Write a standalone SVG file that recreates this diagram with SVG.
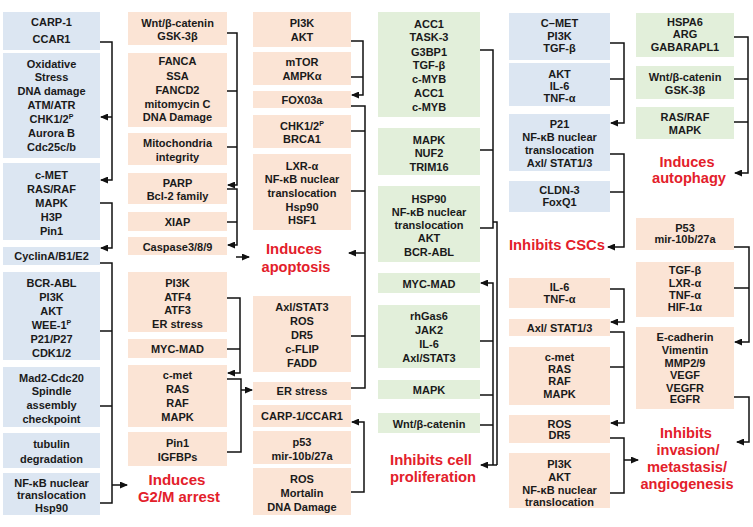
<svg xmlns="http://www.w3.org/2000/svg" width="753" height="527" viewBox="0 0 753 527">
<style>
.b{fill:#dce6f2}
.o{fill:#fbe4d5}
.g{fill:#e2efda}
.t{font-family:"Liberation Sans",Arial,sans-serif;font-weight:bold;font-size:11px;fill:#1a1a1a;text-anchor:middle}
.r{font-family:"Liberation Sans",Arial,sans-serif;font-weight:bold;font-size:15px;fill:#e3202a;text-anchor:middle}
.c{fill:none;stroke:#111;stroke-width:1.5}
.a{marker-end:url(#ah)}
.s{font-size:7px}
</style>
<defs>
<marker id="ah" markerUnits="userSpaceOnUse" markerWidth="8" markerHeight="7" refX="7" refY="3.5" orient="auto">
<path d="M0,0 L8,3.5 L0,7 z" fill="#111"/>
</marker>
</defs>
<rect width="753" height="527" fill="#fff"/>

<!-- Column 1 -->
<g id="n1"><rect class="b" x="3" y="12" width="97" height="38"/><text class="t" x="51.5" y="26">CARP-1</text><text class="t" x="51.5" y="43">CCAR1</text></g>
<g id="n2"><rect class="b" x="3" y="53" width="97" height="105"/><text class="t" x="51.5" y="68">Oxidative</text><text class="t" x="51.5" y="81">Stress</text><text class="t" x="51.5" y="95">DNA damage</text><text class="t" x="51.5" y="109">ATM/ATR</text><text class="t" x="51.5" y="123">CHK1/2<tspan class="s" dy="-4">P</tspan></text><text class="t" x="51.5" y="137">Aurora B</text><text class="t" x="51.5" y="151">Cdc25c/b</text></g>
<g id="n3"><rect class="b" x="3" y="163" width="97" height="77"/><text class="t" x="51.5" y="179">c-MET</text><text class="t" x="51.5" y="193">RAS/RAF</text><text class="t" x="51.5" y="207">MAPK</text><text class="t" x="51.5" y="221">H3P</text><text class="t" x="51.5" y="235">Pin1</text></g>
<g id="n4"><rect class="b" x="3" y="247" width="97" height="18"/><text class="t" x="51.5" y="260">CyclinA/B1/E2</text></g>
<g id="n5"><rect class="b" x="3" y="272" width="97" height="88"/><text class="t" x="51.5" y="287">BCR-ABL</text><text class="t" x="51.5" y="301">PI3K</text><text class="t" x="51.5" y="315">AKT</text><text class="t" x="51.5" y="329">WEE-1<tspan class="s" dy="-4">P</tspan></text><text class="t" x="51.5" y="343">P21/P27</text><text class="t" x="51.5" y="357">CDK1/2</text></g>
<g id="n6"><rect class="b" x="3" y="367" width="97" height="60"/><text class="t" x="51.5" y="382">Mad2-Cdc20</text><text class="t" x="51.5" y="395">Spindle</text><text class="t" x="51.5" y="409">assembly</text><text class="t" x="51.5" y="423">checkpoint</text></g>
<g id="n7"><rect class="b" x="3" y="433" width="97" height="35"/><text class="t" x="51.5" y="448">tubulin</text><text class="t" x="51.5" y="463">degradation</text></g>
<g id="n8"><rect class="b" x="3" y="473" width="97" height="42"/><text class="t" x="51.5" y="487">NF-κB nuclear</text><text class="t" x="51.5" y="499">translocation</text><text class="t" x="51.5" y="512">Hsp90</text></g>

<!-- Column 2 -->
<g id="m1"><rect class="o" x="128" y="12" width="99" height="33"/><text class="t" x="177.5" y="27">Wnt/β-catenin</text><text class="t" x="177.5" y="40">GSK-3β</text></g>
<g id="m2"><rect class="o" x="128" y="53" width="99" height="74"/><text class="t" x="177.5" y="65">FANCA</text><text class="t" x="177.5" y="80">SSA</text><text class="t" x="177.5" y="94">FANCD2</text><text class="t" x="177.5" y="108">mitomycin C</text><text class="t" x="177.5" y="121">DNA Damage</text></g>
<g id="m3"><rect class="o" x="128" y="133" width="99" height="32"/><text class="t" x="177.5" y="147">Mitochondria</text><text class="t" x="177.5" y="161">integrity</text></g>
<g id="m4"><rect class="o" x="128" y="173" width="99" height="31"/><text class="t" x="177.5" y="187">PARP</text><text class="t" x="177.5" y="200">Bcl-2 family</text></g>
<g id="m5"><rect class="o" x="128" y="212" width="99" height="19"/><text class="t" x="177.5" y="226">XIAP</text></g>
<g id="m6"><rect class="o" x="128" y="237" width="99" height="18"/><text class="t" x="177.5" y="251">Caspase3/8/9</text></g>
<g id="m7"><rect class="o" x="128" y="272" width="99" height="60"/><text class="t" x="177.5" y="287">PI3K</text><text class="t" x="177.5" y="301">ATF4</text><text class="t" x="177.5" y="314">ATF3</text><text class="t" x="177.5" y="328">ER stress</text></g>
<g id="m8"><rect class="o" x="128" y="339" width="99" height="19"/><text class="t" x="177.5" y="353">MYC-MAD</text></g>
<g id="m9"><rect class="o" x="128" y="365" width="99" height="62"/><text class="t" x="177.5" y="379">c-met</text><text class="t" x="177.5" y="393">RAS</text><text class="t" x="177.5" y="407">RAF</text><text class="t" x="177.5" y="421">MAPK</text></g>
<g id="m10"><rect class="o" x="128" y="432" width="99" height="34"/><text class="t" x="177.5" y="447">Pin1</text><text class="t" x="177.5" y="461">IGFBPs</text></g>
<g id="g2m"><text class="r" x="177" y="485" textLength="57" lengthAdjust="spacingAndGlyphs">Induces</text><text class="r" x="179" y="502" textLength="82" lengthAdjust="spacingAndGlyphs">G2/M arrest</text></g>

<!-- Column 3 -->
<g id="k1"><rect class="o" x="253" y="12" width="98" height="35"/><text class="t" x="302" y="27">PI3K</text><text class="t" x="302" y="41">AKT</text></g>
<g id="k2"><rect class="o" x="253" y="52" width="98" height="33"/><text class="t" x="302" y="66">mTOR</text><text class="t" x="302" y="80">AMPKα</text></g>
<g id="k3"><rect class="o" x="253" y="91" width="98" height="17"/><text class="t" x="302" y="104">FOX03a</text></g>
<g id="k4"><rect class="o" x="253" y="115" width="98" height="33"/><text class="t" x="302" y="130">CHK1/2<tspan class="s" dy="-4">P</tspan></text><text class="t" x="302" y="143">BRCA1</text></g>
<g id="k5"><rect class="o" x="253" y="154" width="98" height="76"/><text class="t" x="302" y="170">LXR-α</text><text class="t" x="302" y="183">NF-κB nuclear</text><text class="t" x="302" y="197">translocation</text><text class="t" x="302" y="211">Hsp90</text><text class="t" x="302" y="224">HSF1</text></g>
<g id="apop"><text class="r" x="294" y="254" textLength="56" lengthAdjust="spacingAndGlyphs">Induces</text><text class="r" x="296" y="272" textLength="69" lengthAdjust="spacingAndGlyphs">apoptosis</text></g>
<g id="k6"><rect class="o" x="253" y="296" width="98" height="76"/><text class="t" x="302" y="311">Axl/STAT3</text><text class="t" x="302" y="325">ROS</text><text class="t" x="302" y="339">DR5</text><text class="t" x="302" y="353">c-FLIP</text><text class="t" x="302" y="367">FADD</text></g>
<g id="k7"><rect class="o" x="253" y="382" width="98" height="18"/><text class="t" x="302" y="395">ER stress</text></g>
<g id="k8"><rect class="o" x="253" y="405" width="98" height="22"/><text class="t" x="302" y="420">CARP-1/CCAR1</text></g>
<g id="k9"><rect class="o" x="253" y="431" width="98" height="33"/><text class="t" x="302" y="446">p53</text><text class="t" x="302" y="460">mir-10b/27a</text></g>
<g id="k10"><rect class="o" x="253" y="468" width="98" height="47"/><text class="t" x="302" y="483">ROS</text><text class="t" x="302" y="497">Mortalin</text><text class="t" x="302" y="511">DNA Damage</text></g>

<!-- Column 4 -->
<g id="q1"><rect class="g" x="378" y="12" width="102" height="105"/><text class="t" x="429" y="28">ACC1</text><text class="t" x="429" y="41">TASK-3</text><text class="t" x="429" y="56">G3BP1</text><text class="t" x="429" y="69">TGF-β</text><text class="t" x="429" y="83">c-MYB</text><text class="t" x="429" y="97">ACC1</text><text class="t" x="429" y="111">c-MYB</text></g>
<g id="q2"><rect class="g" x="378" y="128" width="102" height="47"/><text class="t" x="429" y="144">MAPK</text><text class="t" x="429" y="157">NUF2</text><text class="t" x="429" y="171">TRIM16</text></g>
<g id="q3"><rect class="g" x="378" y="186" width="102" height="76"/><text class="t" x="429" y="203">HSP90</text><text class="t" x="429" y="216">NF-κB nuclear</text><text class="t" x="429" y="229">translocation</text><text class="t" x="429" y="242">AKT</text><text class="t" x="429" y="256">BCR-ABL</text></g>
<g id="q4"><rect class="g" x="378" y="273" width="102" height="20"/><text class="t" x="429" y="288">MYC-MAD</text></g>
<g id="q5"><rect class="g" x="378" y="305" width="102" height="63"/><text class="t" x="429" y="320">rhGas6</text><text class="t" x="429" y="334">JAK2</text><text class="t" x="429" y="348">IL-6</text><text class="t" x="429" y="362">Axl/STAT3</text></g>
<g id="q6"><rect class="g" x="378" y="380" width="102" height="19"/><text class="t" x="429" y="394">MAPK</text></g>
<g id="q7"><rect class="g" x="378" y="413" width="102" height="20"/><text class="t" x="429" y="428">Wnt/β-catenin</text></g>
<g id="prolif"><text class="r" x="431" y="465" textLength="82" lengthAdjust="spacingAndGlyphs">Inhibits cell</text><text class="r" x="433" y="482" textLength="86" lengthAdjust="spacingAndGlyphs">proliferation</text></g>

<!-- Column 5 -->
<g id="p1"><rect class="b" x="509" y="13" width="101" height="47"/><text class="t" x="559.5" y="27">C–MET</text><text class="t" x="559.5" y="40">PI3K</text><text class="t" x="559.5" y="52">TGF-β</text></g>
<g id="p2"><rect class="b" x="509" y="63" width="101" height="43"/><text class="t" x="559.5" y="78">AKT</text><text class="t" x="559.5" y="90">IL-6</text><text class="t" x="559.5" y="102">TNF-α</text></g>
<g id="p3"><rect class="b" x="509" y="114" width="101" height="57"/><text class="t" x="559.5" y="128">P21</text><text class="t" x="559.5" y="141">NF-κB nuclear</text><text class="t" x="559.5" y="154">translocation</text><text class="t" x="559.5" y="167">Axl/ STAT1/3</text></g>
<g id="p4"><rect class="b" x="509" y="181" width="101" height="31"/><text class="t" x="559.5" y="194">CLDN-3</text><text class="t" x="559.5" y="206">FoxQ1</text></g>
<g id="csc"><text class="r" x="557" y="250" textLength="96" lengthAdjust="spacingAndGlyphs">Inhibits CSCs</text></g>
<g id="p5"><rect class="o" x="509" y="278" width="101" height="30"/><text class="t" x="559.5" y="291">IL-6</text><text class="t" x="559.5" y="303">TNF-α</text></g>
<g id="p6"><rect class="o" x="509" y="319" width="101" height="17"/><text class="t" x="559.5" y="332">Axl/ STAT1/3</text></g>
<g id="p7"><rect class="o" x="509" y="347" width="101" height="58"/><text class="t" x="559.5" y="361">c-met</text><text class="t" x="559.5" y="373">RAS</text><text class="t" x="559.5" y="385">RAF</text><text class="t" x="559.5" y="398">MAPK</text></g>
<g id="p8"><rect class="o" x="509" y="415" width="101" height="28"/><text class="t" x="559.5" y="428">ROS</text><text class="t" x="559.5" y="439">DR5</text></g>
<g id="p9"><rect class="o" x="509" y="453" width="101" height="55"/><text class="t" x="559.5" y="468">PI3K</text><text class="t" x="559.5" y="481">AKT</text><text class="t" x="559.5" y="494">NF-κB nuclear</text><text class="t" x="559.5" y="506">translocation</text></g>

<!-- Column 6 -->
<g id="h1"><rect class="g" x="636" y="13" width="98" height="44"/><text class="t" x="685" y="26">HSPA6</text><text class="t" x="685" y="38">ARG</text><text class="t" x="685" y="51">GABARAPL1</text></g>
<g id="h2"><rect class="g" x="636" y="66" width="98" height="33"/><text class="t" x="685" y="81">Wnt/β-catenin</text><text class="t" x="685" y="94">GSK-3β</text></g>
<g id="h3"><rect class="g" x="636" y="107" width="98" height="32"/><text class="t" x="685" y="121">RAS/RAF</text><text class="t" x="685" y="134">MAPK</text></g>
<g id="auto"><text class="r" x="687" y="167" textLength="55" lengthAdjust="spacingAndGlyphs">Induces</text><text class="r" x="689" y="183" textLength="74" lengthAdjust="spacingAndGlyphs">autophagy</text></g>
<g id="h4"><rect class="o" x="636" y="218" width="98" height="32"/><text class="t" x="685" y="232">P53</text><text class="t" x="685" y="243">mir-10b/27a</text></g>
<g id="h5"><rect class="o" x="636" y="262" width="98" height="55"/><text class="t" x="685" y="274">TGF-β</text><text class="t" x="685" y="287">LXR-α</text><text class="t" x="685" y="299">TNF-α</text><text class="t" x="685" y="311">HIF-1α</text></g>
<g id="h6"><rect class="o" x="636" y="327" width="98" height="82"/><text class="t" x="685" y="341">E-cadherin</text><text class="t" x="685" y="354">Vimentin</text><text class="t" x="685" y="367">MMP2/9</text><text class="t" x="685" y="379">VEGF</text><text class="t" x="685" y="392">VEGFR</text><text class="t" x="685" y="403">EGFR</text></g>
<g id="inv"><text class="r" x="686" y="438" textLength="52" lengthAdjust="spacingAndGlyphs">Inhibits</text><text class="r" x="688" y="455" textLength="63" lengthAdjust="spacingAndGlyphs">invasion/</text><text class="r" x="687" y="472" textLength="80" lengthAdjust="spacingAndGlyphs">metastasis/</text><text class="r" x="687" y="489" textLength="93" lengthAdjust="spacingAndGlyphs">angiogenesis</text></g>

<!-- Connectors -->
<g id="connectors">
<path class="c a" d="M100,42 H112 V180 H101"/>
<path class="c a" d="M112,117 H101"/>
<path class="c a" d="M100,203 H112 V248 H101"/>
<path class="c" d="M100,263 H112 V503 H100 M100,331 H112 M100,406 H112"/>
<path class="c a" d="M112,485 H127"/>

<path class="c a" d="M227,33 H237 V185 H228"/>
<path class="c" d="M227,91 H237 M227,147 H237"/>
<path class="c a" d="M227,189 H237 V245 H228"/>
<path class="c" d="M227,222 H237"/>
<path class="c a" d="M236,257 H249"/>
<path class="c a" d="M227,298 H240 V373 H228"/>
<path class="c" d="M227,349 H240"/>
<path class="c" d="M227,379 H241 V452 H227"/>
<path class="c a" d="M241,390 H252"/>

<path class="c a" d="M351,41 H363 V95 H352"/>
<path class="c" d="M351,77 H363"/>
<path class="c" d="M351,106 H365 V388 H351 M351,131 H365 M351,191 H365 M351,336 H365"/>
<path class="c a" d="M365,253 H349"/>
<path class="c a" d="M351,492 H364 V422 H352"/>

<path class="c" d="M480,50 H493 V228 H480 M480,150 H493 M493,222 H497 V465"/>
<path class="c a" d="M497,465 H481"/>
<path class="c a" d="M493,465 V283 H481"/>
<path class="c" d="M480,341 H493 M480,395 H493 M480,425 H493"/>

<path class="c a" d="M610,43 H624 V123 H611"/>
<path class="c" d="M610,79 H624"/>
<path class="c a" d="M610,154 H624 V247 H608"/>
<path class="c" d="M610,192 H624"/>
<path class="c a" d="M610,289 H624 V322 H611"/>
<path class="c a" d="M610,332 H624 V423 H611"/>
<path class="c" d="M610,367 H624"/>
<path class="c" d="M610,438 H624 V493 H610"/>
<path class="c a" d="M624,460 H638"/>

<path class="c a" d="M734,37 H748 V173 H735"/>
<path class="c" d="M734,79 H748 M734,122 H748"/>
<path class="c a" d="M734,247 H749 V342 H735"/>
<path class="c" d="M734,288 H749"/>
<path class="c a" d="M734,397 H749 V442 H737"/>
</g>
</svg>
